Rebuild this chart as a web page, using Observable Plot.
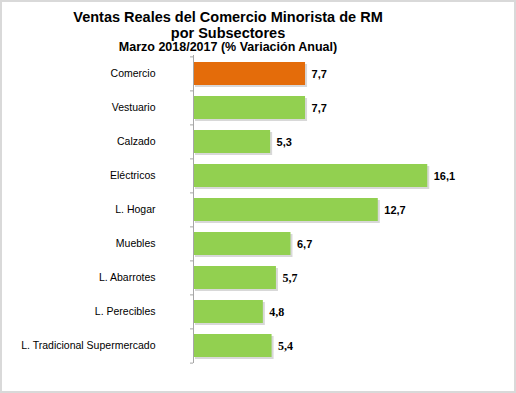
<!DOCTYPE html>
<html>
<head>
<meta charset="utf-8">
<script src="https://cdn.jsdelivr.net/npm/d3@7"></script>
<script src="https://cdn.jsdelivr.net/npm/@observablehq/plot@0.6"></script>
<style>
  body { margin: 0; background: #fff; }
  #wrap { position: relative; width: 516px; height: 393px; overflow: hidden; background: #fff; font-family: "Liberation Sans", Arial, sans-serif; }
  .t { position: absolute; left: 0; width: 456px; text-align: center; font-weight: bold; color: #000; white-space: nowrap; }
  #chart { position: absolute; left: 0; top: 50px; }
  #frame { position: absolute; left: 0; top: 0; width: 516px; height: 393px; box-sizing: border-box; border: 2px solid #d9d9d9; pointer-events: none; }
</style>
</head>
<body>
<div id="wrap">
  <div class="t" style="top:9px;font-size:14.5px;line-height:16px;">Ventas Reales del Comercio Minorista de RM</div>
  <div class="t" style="top:25px;font-size:14.5px;line-height:16px;">por Subsectores</div>
  <div class="t" style="top:40px;font-size:12.5px;line-height:14px;">Marzo 2018/2017 (% Variación Anual)</div>
  <div id="chart"></div>
  <div id="frame"></div>
</div>
<script>
const categorias = ["Comercio", "Vestuario", "Calzado", "Eléctricos", "L. Hogar", "Muebles", "L. Abarrotes", "L. Perecibles", "L. Tradicional Supermercado"];
const variacion = [7.7, 7.7, 5.3, 16.1, 12.7, 6.7, 5.7, 4.8, 5.4];

const data = categorias.map((c, i) => ({categoria: c, valor: variacion[i], i}));
const fmt = v => v.toFixed(1).replace(".", ",");
const step = 308 / categorias.length;

const plot = Plot.plot({
  width: 516,
  height: 343,
  marginTop: 5,
  marginBottom: 30,
  marginLeft: 193,
  marginRight: 32,
  style: {background: "transparent", fontFamily: "Liberation Sans, Arial, sans-serif"},
  x: {domain: [0, 20], axis: null},
  y: {domain: categorias, paddingInner: 0.33, paddingOuter: 0.165, label: null},
  marks: [
    Plot.axisY({tickSize: 0, tickPadding: 38, fontSize: 10.5, fill: "#000", label: null}),
    Plot.barX(data, {y: "categoria", x: "valor", dx: 2, dy: 2, fill: "#b8b8b8", fillOpacity: 0.55}),
    Plot.barX(data, {y: "categoria", x: "valor", fill: d => d.i === 0 ? "#E46C0A" : "#92D050"}),
    Plot.ruleX([0], {stroke: "#a6a6a6", strokeWidth: 1}),
    Plot.ruleY(categorias, {y: d => d, x1: 0, x2: 0, insetLeft: -3, dy: -step / 2, stroke: "#a6a6a6"}),
    Plot.ruleY(categorias.slice(-1), {y: d => d, x1: 0, x2: 0, insetLeft: -3, dy: step / 2, stroke: "#a6a6a6"}),
    Plot.text(data.filter(d => d.i < 6), {y: "categoria", x: "valor", text: d => fmt(d.valor), dx: 6, textAnchor: "start", fontWeight: "bold", fontSize: 11, fill: "#000"}),
    Plot.text(data.filter(d => d.i >= 6), {y: "categoria", x: "valor", text: d => fmt(d.valor), dx: 6, textAnchor: "start", fontWeight: "bold", fontSize: 12, fontFamily: "Liberation Serif, Times New Roman, serif", fill: "#000"})
  ]
});
document.getElementById("chart").appendChild(plot);
</script>
</body>
</html>
